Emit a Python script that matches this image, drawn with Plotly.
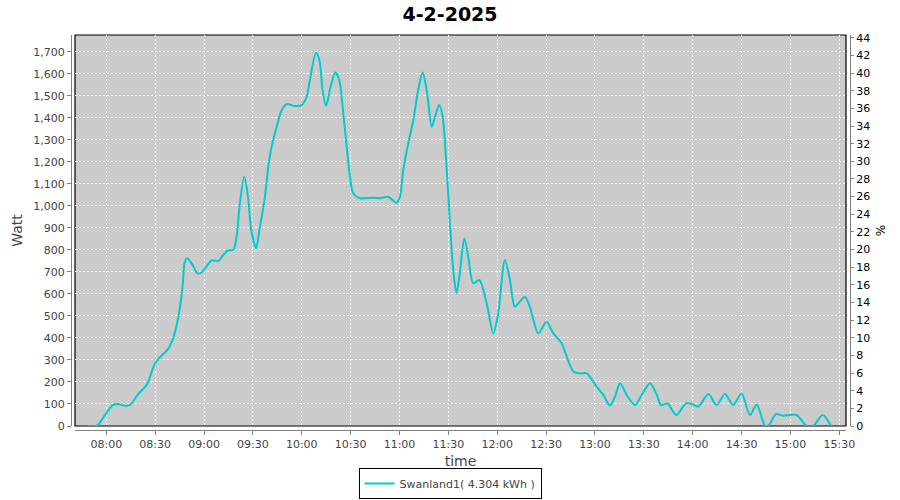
import plotly.graph_objects as go

DAY = "2025-02-04"
times = [
    "07:49:00", "07:54:00", "08:00:00", "08:04:00", "08:07:00", "08:11:30", "08:14:30", "08:19:36",
    "08:24:48", "08:30:00", "08:35:00", "08:38:00", "08:41:00", "08:43:00", "08:45:00", "08:47:00",
    "08:48:00", "08:49:30", "08:52:24", "08:56:00", "08:58:00", "09:00:36", "09:04:42", "09:09:00",
    "09:11:00", "09:14:30", "09:18:00", "09:20:00", "09:22:00", "09:24:42", "09:27:00", "09:29:00",
    "09:32:00", "09:34:00", "09:37:24", "09:39:30", "09:41:30", "09:44:36", "09:47:42", "09:50:42",
    "09:55:48", "09:59:54", "10:03:00", "10:05:00", "10:08:42", "10:10:48", "10:12:48", "10:14:54",
    "10:17:42", "10:20:36", "10:23:00", "10:25:30", "10:27:36", "10:29:36", "10:31:36", "10:35:42",
    "10:43:54", "10:48:00", "10:53:00", "10:58:12", "11:00:18", "11:02:18", "11:05:24", "11:08:30",
    "11:11:30", "11:14:12", "11:16:42", "11:19:48", "11:21:48", "11:24:24", "11:26:30", "11:29:00",
    "11:31:00", "11:33:00", "11:35:00", "11:37:00", "11:39:48", "11:42:12", "11:45:18", "11:49:00",
    "11:53:30", "11:57:36", "12:00:36", "12:04:42", "12:07:48", "12:10:48", "12:13:54", "12:17:00",
    "12:20:00", "12:25:12", "12:30:18", "12:34:24", "12:39:30", "12:46:42", "12:50:48", "12:54:54",
    "13:01:00", "13:05:06", "13:09:12", "13:12:18", "13:15:24", "13:19:30", "13:24:36", "13:28:42",
    "13:33:48", "13:38:00", "13:40:30", "13:44:30", "13:50:00", "13:55:54", "13:59:24", "14:03:24",
    "14:09:36", "14:14:42", "14:19:48", "14:24:54", "14:30:00", "14:35:06", "14:39:18", "14:44:24",
    "14:46:24", "14:51:06", "14:55:36", "15:00:00", "15:03:48", "15:10:00", "15:14:00", "15:19:48",
    "15:24:54",
]
watts = [
    0, 0, 58, 95, 100, 92, 95, 145,
    186, 285, 327, 350, 398, 451, 527, 648,
    739, 762, 739, 693, 695, 716, 752, 750,
    769, 797, 800, 860, 1011, 1132, 1041, 890,
    807, 890, 1041, 1178, 1268, 1359, 1435, 1462,
    1453, 1458, 1495, 1571, 1695, 1662, 1526, 1453,
    1541, 1605, 1571, 1420, 1268, 1132, 1057, 1034,
    1037, 1034, 1041, 1014, 1041, 1163, 1284, 1390,
    1526, 1605, 1526, 1359, 1405, 1458, 1405, 1163,
    921, 708, 603, 693, 852, 769, 648, 663,
    557, 421, 512, 754, 663, 542, 565, 587,
    542, 421, 474, 421, 376, 247, 239, 239,
    179, 141, 93, 133, 194, 141, 95, 141,
    194, 141, 95, 102, 50, 103, 100, 88,
    145, 95, 145, 95, 148, 50, 98, 0,
    0, 54, 47, 50, 50, 0, 0, 50,
    0,
]
series_name = "Swanland1( 4.304 kWh )"
title_text = "4-2-2025"
x_range = ["07:40:48", "15:34:06"]
watt_range = [0, 1775.7]
pct_range = [0, 44.32]

xs = [f"{DAY} {t}" for t in times]

FONT = "DejaVu Sans"
W, H = 900, 500
ml, mr, mt, mb = 71, 50, 35, 70
pw, ph = W - ml - mr, H - mt - mb
gx, gy = 4 / pw, 4 / ph

fig = go.Figure()
fig.add_trace(go.Scatter(
    x=xs, y=watts, mode="lines", name=series_name, cliponaxis=False,
    line=dict(color="#00CCCC", width=2, shape="spline", smoothing=0.8),
))
fig.add_trace(go.Scatter(
    x=[xs[0]], y=[None], yaxis="y2", mode="lines", showlegend=False, hoverinfo="skip",
))

tickfont = dict(family=FONT, size=11, color="#444444")
fig.update_layout(
    width=W, height=H,
    margin=dict(l=ml, r=mr, t=mt, b=mb, autoexpand=False),
    paper_bgcolor="white", plot_bgcolor="#CBCBCB",
    font=dict(family=FONT, color="#444444"),
    title=dict(text=f"<b>{title_text}</b>", x=0.5, xref="container", xanchor="center",
               y=1 - 14 / H, yref="container", yanchor="middle",
               font=dict(family=FONT, size=19, color="black")),
    xaxis=dict(
        type="date", domain=[gx, 1 - gx], anchor="free", position=0,
        range=[f"{DAY} {x_range[0]}", f"{DAY} {x_range[1]}"],
        tickformat="%H:%M", dtick=1800000, tick0=f"{DAY} 08:00:00",
        showgrid=True, gridcolor="white", griddash="2px,2px", gridwidth=1,
        showline=True, linecolor="#808080", linewidth=1,
        ticks="outside", ticklen=4, tickcolor="#808080",
        tickfont=tickfont, zeroline=False, automargin=False,
        title=dict(text="time", font=dict(family=FONT, size=14, color="#444444"), standoff=5),
    ),
    yaxis=dict(
        domain=[gy, 1], anchor="free", position=0,
        range=watt_range, dtick=100, tickformat=",d",
        showgrid=True, gridcolor="white", griddash="2px,2px", gridwidth=1,
        showline=True, linecolor="#808080", linewidth=1,
        ticks="outside", ticklen=4, tickcolor="#808080",
        tickfont=tickfont, zeroline=False, automargin=False,
        title=dict(text="Watt", font=dict(family=FONT, size=14, color="#444444"), standoff=6),
    ),
    yaxis2=dict(
        overlaying="y", side="right", anchor="free", position=1,
        range=pct_range, dtick=2,
        showgrid=False, zeroline=False, automargin=False,
        showline=True, linecolor="#808080", linewidth=1,
        ticks="outside", ticklen=3, tickcolor="#808080",
        tickfont=dict(family=FONT, size=11, color="black"),
        title=dict(text="%", font=dict(family=FONT, size=12, color="black"), standoff=7),
    ),
    showlegend=True,
    legend=dict(
        orientation="h", x=(450 - ml) / pw, xanchor="center",
        y=(mt + ph - 499) / ph, yanchor="bottom",
        bordercolor="black", borderwidth=1, bgcolor="white",
        font=dict(family=FONT, size=11, color="#444444"),
        itemwidth=30,
    ),
    shapes=[dict(type="rect", xref="x domain", yref="y domain", x0=0, x1=1, y0=0, y1=1,
                 line=dict(color="black", width=1.2), fillcolor="rgba(0,0,0,0)", layer="below")],
)

fig.write_html("out.html", config={"displayModeBar": False},
               post_script="document.body.style.margin='0px';")
